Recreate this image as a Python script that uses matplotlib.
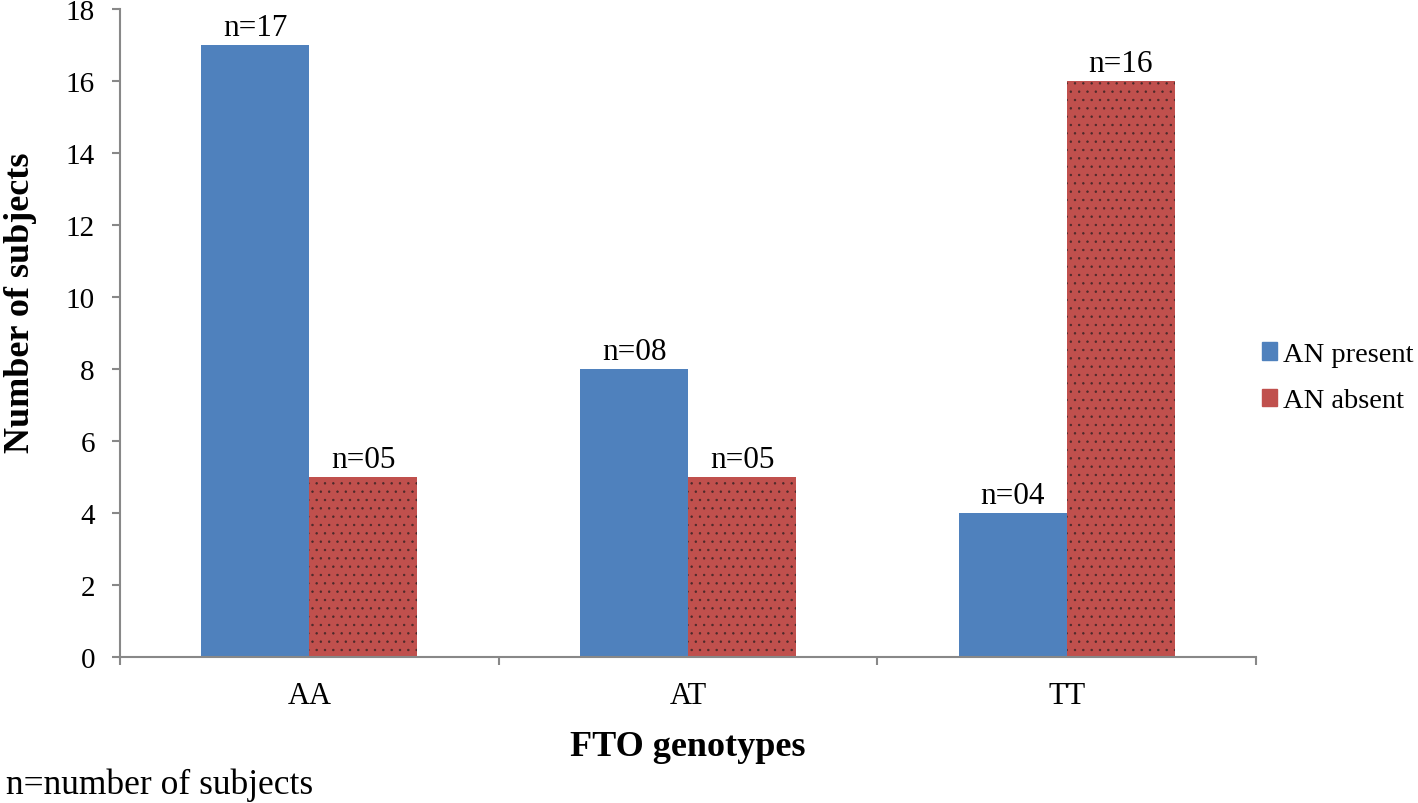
import matplotlib.pyplot as plt
import numpy as np

plt.rcParams['font.family'] = ['Liberation Serif', 'DejaVu Serif']
plt.rcParams['hatch.linewidth'] = 0.5

genotypes = ['AA', 'AT', 'TT']
an_present = [17, 8, 4]
an_absent = [5, 5, 16]
labels_present = ['n=17', 'n=08', 'n=04']
labels_absent = ['n=05', 'n=05', 'n=16']

fig = plt.figure(figsize=(14.18, 8.04), dpi=100)
ax = fig.add_axes([0.0846, 0.1816, 0.8012, 0.806])

x = np.arange(len(genotypes))
w = 0.285
b1 = ax.bar(x - w / 2, an_present, w, color='#4F81BD', label='AN present')
b2 = ax.bar(x + w / 2, an_absent, w, color='#C0504D', label='AN absent',
            hatch='..', edgecolor='#4a2a2a', linewidth=0)

# value labels over the bars
for bars, labs in [(b1, labels_present), (b2, labels_absent)]:
    for rect, t in zip(bars, labs):
        ax.annotate(t, (rect.get_x() + rect.get_width() / 2, rect.get_height()),
                    xytext=(0, 7.5), textcoords='offset points',
                    ha='center', va='baseline', fontsize=22.5)

ax.set_xlim(-0.5, 2.5)
ax.set_ylim(0, 18)
ax.set_yticks(range(0, 19, 2))
ax.set_xticks(x)
ax.set_xticklabels(genotypes)
ax.set_xticks([-0.5, 0.5, 1.5, 2.5], minor=True)
ax.tick_params(axis='x', which='major', length=0, pad=17, labelsize=22)
ax.tick_params(axis='x', which='minor', length=6, color='#888888', width=1.5)
ax.tick_params(axis='y', length=6, color='#888888', width=1.5, labelsize=21, pad=12)

for s in ['top', 'right']:
    ax.spines[s].set_visible(False)
for s in ['left', 'bottom']:
    ax.spines[s].set_color('#888888')
    ax.spines[s].set_linewidth(1.5)

ax.set_ylabel('Number of subjects', fontsize=26, fontweight='bold')
ax.yaxis.set_label_coords(-0.073, 0.548)
ax.set_xlabel('FTO genotypes', fontsize=26, fontweight='bold', labelpad=15)

h1 = plt.Rectangle((0, 0), 1, 1, color='#4F81BD')
h2 = plt.Rectangle((0, 0), 1, 1, color='#C0504D')
fig.legend([h1, h2], ['AN present', 'AN absent'], loc='center left',
           bbox_to_anchor=(0.8898, 0.529), frameon=False, fontsize=20.5,
           handlelength=0.55, handleheight=0.55, handletextpad=0.2,
           labelspacing=0.75, borderpad=0, borderaxespad=0)

fig.text(0.004, 0.012, 'n=number of subjects', fontsize=25.5, ha='left', va='baseline')

fig.savefig('out.png', dpi=100)
